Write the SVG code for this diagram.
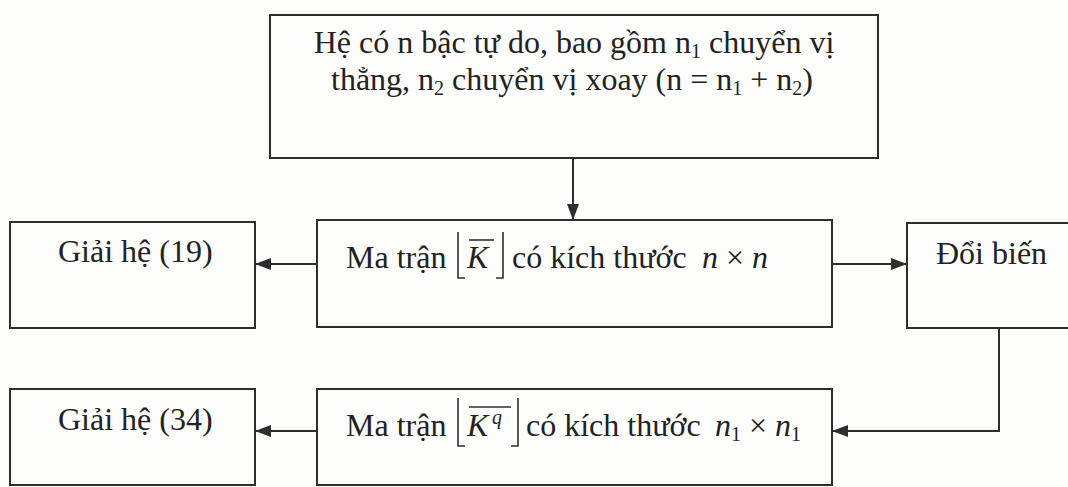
<svg xmlns="http://www.w3.org/2000/svg" width="1068" height="487" viewBox="0 0 1068 487">
<defs>
<style>
.box{fill:none;stroke:#2e2e2e;stroke-width:2}
.ln{fill:none;stroke:#2e2e2e;stroke-width:2}
.t{font-family:"Liberation Serif","Times New Roman",serif;font-size:32px;fill:#222}
.i{font-style:italic}
.sub{font-size:20px}
.br{fill:none;stroke:#2e2e2e;stroke-width:1.6}
</style>
<marker id="ah" markerWidth="16" markerHeight="12" refX="16" refY="6" orient="auto" markerUnits="userSpaceOnUse">
<path d="M0,0 L16,6 L0,12 z" fill="#2e2e2e"/>
</marker>
</defs>
<rect x="0" y="0" width="1068" height="487" fill="#fdfdfc"/>

<g id="node-top">
<rect class="box" x="270" y="15" width="608" height="143"/>
<text class="t" x="574" y="53" text-anchor="middle">Hệ có n bậc tự do, bao gồm n<tspan class="sub" dy="5">1</tspan><tspan dy="-5"> chuyển vị</tspan></text>
<text class="t" x="572" y="90" text-anchor="middle">thẳng, n<tspan class="sub" dy="5">2</tspan><tspan dy="-5"> chuyển vị xoay (n = n</tspan><tspan class="sub" dy="5">1</tspan><tspan dy="-5"> + n</tspan><tspan class="sub" dy="5">2</tspan><tspan dy="-5">)</tspan></text>
</g>

<g id="node-giai19">
<rect class="box" x="10" y="222" width="245" height="106"/>
<text class="t" x="58" y="262">Giải hệ (19)</text>
</g>

<g id="node-k">
<rect class="box" x="317" y="220" width="515" height="107"/>
<text class="t" x="346" y="268">Ma trận</text>
<path class="br" d="M458,232 V278 H465"/>
<text class="t i" x="467" y="268">K</text>
<path class="br" d="M469,240 H494"/>
<path class="br" d="M503,232 V278 H496"/>
<text class="t" x="512" y="268">có kích thước</text>
<text class="t" x="702" y="268"><tspan class="i">n</tspan> × <tspan class="i">n</tspan></text>
</g>

<g id="node-doibien">
<rect class="box" x="907" y="223" width="170" height="105"/>
<text class="t" x="936" y="264">Đổi biến</text>
</g>

<g id="node-giai34">
<rect class="box" x="10" y="389" width="245" height="96"/>
<text class="t" x="58" y="430">Giải hệ (34)</text>
</g>

<g id="node-kq">
<rect class="box" x="317" y="389" width="515" height="96"/>
<text class="t" x="346" y="436">Ma trận</text>
<path class="br" d="M458,398 V446 H465"/>
<text class="t i" x="467" y="436">K</text>
<text class="t i sub" x="492" y="424">q</text>
<path class="br" d="M469,407 H511"/>
<path class="br" d="M518,398 V446 H511"/>
<text class="t" x="526" y="436">có kích thước</text>
<text class="t" x="715" y="436"><tspan class="i">n</tspan><tspan class="sub" dy="5">1</tspan><tspan dy="-5"> × </tspan><tspan class="i">n</tspan><tspan class="sub" dy="5">1</tspan></text>
</g>

<g id="connectors">
<path class="ln" d="M573,158 V220" marker-end="url(#ah)"/>
<path class="ln" d="M317,264 H255" marker-end="url(#ah)"/>
<path class="ln" d="M832,264 H907" marker-end="url(#ah)"/>
<path class="ln" d="M999,328 V431 H832" marker-end="url(#ah)"/>
<path class="ln" d="M317,431 H255" marker-end="url(#ah)"/>
</g>
</svg>
